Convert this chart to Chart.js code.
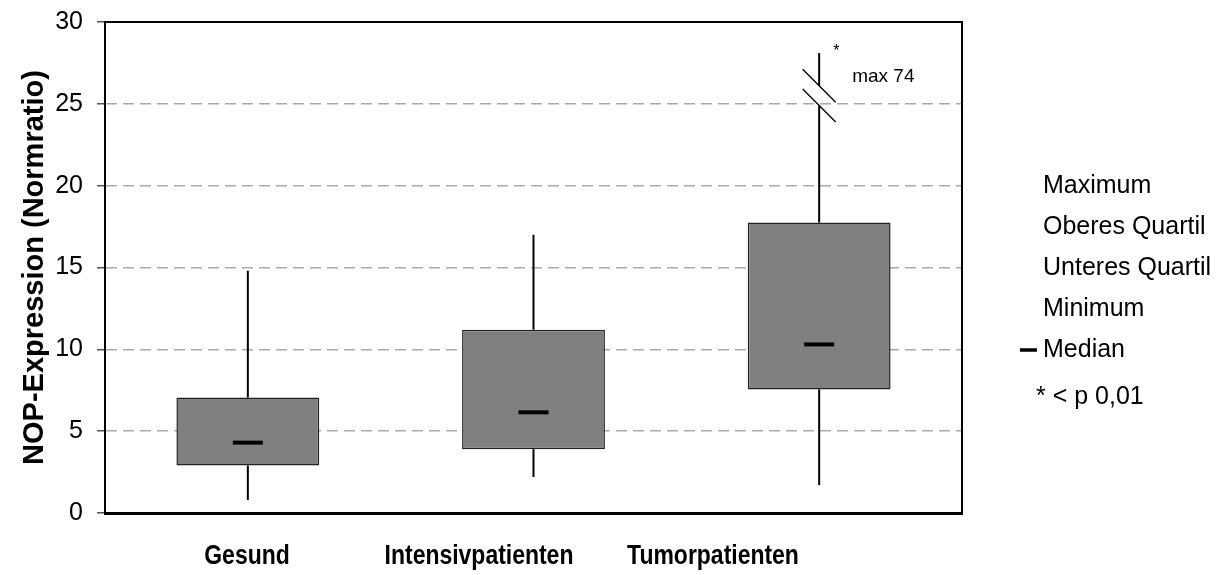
<!DOCTYPE html>
<html>
<head>
<meta charset="utf-8">
<script src="https://cdn.jsdelivr.net/npm/chart.js@4/dist/chart.umd.min.js"></script>
<style>
  html, body { margin: 0; padding: 0; background: #fff; }
  #wrap { width: 1227px; height: 575px; position: relative; }
</style>
</head>
<body>
<div id="wrap"><canvas id="c"></canvas></div>
<script>
// Box plot data: NOP expression (Normratio) per group
const categories = ['Gesund', 'Intensivpatienten', 'Tumorpatienten'];
const minimum = [0.8, 2.2, 1.7];
const lowerQuartile = [2.9, 3.9, 7.55];
const median = [4.3, 6.15, 10.3];
const upperQuartile = [7.05, 11.2, 17.75];
const maximum = [14.8, 17.0, 74];
const significant = [false, false, true];
const yTicks = [0, 5, 10, 15, 20, 25, 30];
const legendLabels = ['Maximum', 'Oberes Quartil', 'Unteres Quartil', 'Minimum', 'Median'];
const footnote = '* < p 0,01';

// Axis break for whiskers that run past the top of the axis
const axisBreak = { top: 28.1, upper: 26.1, lower: 24.9 };

const FONT = '"Liberation Sans", Arial, sans-serif';

// Category labels sit in their own text row below the axis (condensed bold)
const labelCenters = [247, 479, 713];
const labelCondense = 0.82;

const boxExtras = {
  id: 'boxExtras',
  afterDatasetsDraw(chart) {
    const { ctx, scales: { x, y }, chartArea } = chart;
    ctx.save();
    ctx.strokeStyle = '#000';
    ctx.lineCap = 'butt';
    categories.forEach((c, i) => {
      const px = x.getPixelForValue(i);
      const line = (v1, v2) => {
        ctx.beginPath();
        ctx.moveTo(px, y.getPixelForValue(v1));
        ctx.lineTo(px, y.getPixelForValue(v2));
        ctx.stroke();
      };
      ctx.lineWidth = 2;
      // lower whisker
      line(lowerQuartile[i], minimum[i]);
      // upper whisker, broken if it leaves the axis
      if (maximum[i] > y.max) {
        line(upperQuartile[i], axisBreak.lower);
        line(axisBreak.upper, axisBreak.top);
        ctx.lineWidth = 1.3;
        [axisBreak.upper, axisBreak.lower].forEach(v => {
          const py = y.getPixelForValue(v);
          ctx.beginPath();
          ctx.moveTo(px - 16.5, py - 16.5);
          ctx.lineTo(px + 16.5, py + 16.5);
          ctx.stroke();
        });
        ctx.fillStyle = '#000';
        ctx.font = '19px ' + FONT;
        ctx.textBaseline = 'middle';
        ctx.textAlign = 'left';
        ctx.fillText('max ' + maximum[i], px + 33, y.getPixelForValue(axisBreak.upper) - 9);
      } else {
        line(upperQuartile[i], maximum[i]);
      }
      if (significant[i]) {
        ctx.fillStyle = '#000';
        ctx.font = '16px ' + FONT;
        ctx.textAlign = 'left';
        ctx.textBaseline = 'middle';
        const topV = Math.min(maximum[i], axisBreak.top);
        ctx.fillText('*', px + 14, y.getPixelForValue(topV) - 2);
      }
      // median
      ctx.lineWidth = 4;
      const my = y.getPixelForValue(median[i]);
      ctx.beginPath();
      ctx.moveTo(px - 15, my);
      ctx.lineTo(px + 15, my);
      ctx.stroke();
    });
    // plot frame (top and right)
    ctx.lineWidth = 2;
    ctx.beginPath();
    ctx.moveTo(chartArea.left, chartArea.top);
    ctx.lineTo(chartArea.right, chartArea.top);
    ctx.lineTo(chartArea.right, chartArea.bottom);
    ctx.stroke();
    ctx.restore();
  },
  afterDraw(chart) {
    const { ctx, scales: { x } } = chart;
    ctx.save();
    ctx.fillStyle = '#000';
    ctx.textBaseline = 'middle';
    // category labels
    ctx.textAlign = 'center';
    ctx.font = 'bold 28px ' + FONT;
    categories.forEach((c, i) => {
      ctx.save();
      ctx.translate(labelCenters[i], x.top + 43);
      ctx.scale(labelCondense, 1);
      ctx.fillText(c, 0, 0);
      ctx.restore();
    });
    // key
    ctx.textAlign = 'left';
    ctx.font = '25px ' + FONT;
    const lx = 1043, ly0 = 186, step = 41;
    legendLabels.forEach((t, k) => {
      ctx.fillText(t, lx, ly0 + k * step);
    });
    const my = ly0 + 4 * step;
    ctx.strokeStyle = '#000';
    ctx.lineWidth = 3.5;
    ctx.beginPath();
    ctx.moveTo(lx - 23, my);
    ctx.lineTo(lx - 6, my);
    ctx.stroke();
    ctx.fillText(footnote, lx - 7, my + 47);
    ctx.restore();
  }
};

new Chart(document.getElementById('c'), {
  type: 'bar',
  data: {
    labels: categories,
    datasets: [{
      data: categories.map((c, i) => [lowerQuartile[i], upperQuartile[i]]),
      backgroundColor: '#808080',
      borderColor: '#222',
      borderWidth: 1.5,
      borderSkipped: false,
      barPercentage: 0.5,
      categoryPercentage: 1.0
    }]
  },
  options: {
    responsive: true,
    maintainAspectRatio: false,
    animation: false,
    devicePixelRatio: 1,
    layout: { padding: { left: 0, top: 22, right: 265, bottom: 0 } },
    plugins: { legend: { display: false }, tooltip: { enabled: false } },
    scales: {
      x: {
        afterFit(s) { s.height = 62; s.paddingLeft = 0; s.paddingRight = 0; },
        grid: { display: false, drawTicks: false },
        border: { display: true, color: '#000', width: 3 },
        ticks: { display: false }
      },
      y: {
        min: 0,
        max: 30,
        afterFit(s) { s.width = 105; s.paddingTop = 0; s.paddingBottom = 0; },
        afterBuildTicks(s) { s.ticks = yTicks.map(v => ({ value: v })); },
        grid: { color: '#aaa', lineWidth: 1.5, tickColor: '#555', tickLength: 8, tickWidth: 1.5, tickBorderDash: [] },
        border: { display: true, color: '#000', width: 2, dash: [11, 6] },
        ticks: { color: '#000', font: { family: FONT, size: 25 }, padding: 14 },
        title: {
          display: true,
          text: 'NOP-Expression (Normratio)',
          color: '#000',
          font: { family: FONT, size: 29, weight: 'bold' },
          padding: { top: 18, bottom: 0 }
        }
      }
    }
  },
  plugins: [boxExtras]
});
</script>
</body>
</html>
